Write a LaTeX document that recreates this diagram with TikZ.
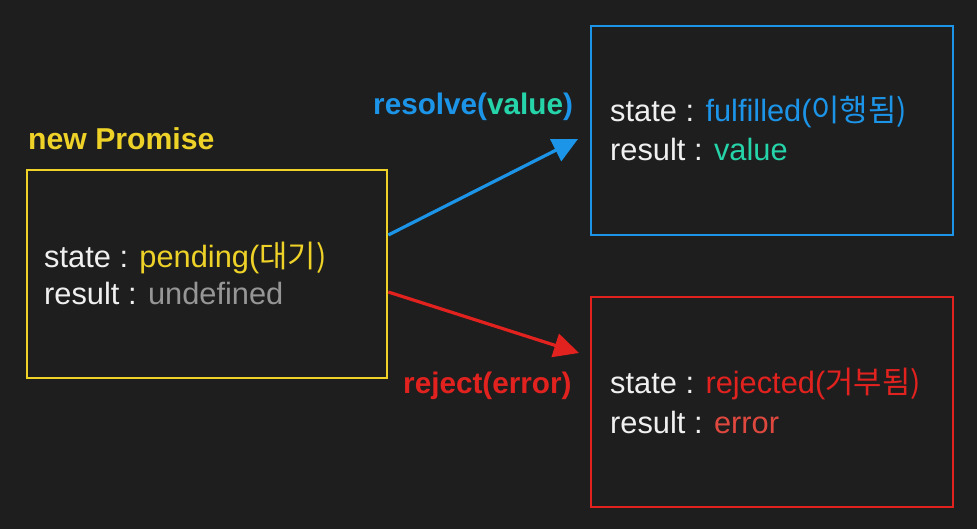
\documentclass[tikz,border=0pt]{standalone}
\usepackage{fontspec}
\setmainfont{Liberation Sans}
\newfontfamily\kor{Noto Sans CJK KR}
\usetikzlibrary{arrows.meta}
\definecolor{bg}{RGB}{30,30,30}
\definecolor{pyellow}{RGB}{238,210,40}
\definecolor{pblue}{RGB}{28,148,232}
\definecolor{pteal}{RGB}{38,212,170}
\definecolor{pred}{RGB}{226,34,30}
\definecolor{pgray}{RGB}{150,150,150}
\definecolor{pwhite}{RGB}{240,240,240}
\definecolor{perr}{RGB}{222,72,62}
\tikzset{
  box/.style={draw, line width=2.6pt, minimum width=#1, inner sep=0pt},
  txt/.style={anchor=base west, inner sep=0pt, text=pwhite, font=\fontsize{30.8}{36}\selectfont},
  lbl/.style={anchor=base west, inner sep=0pt, font=\fontsize{29.7}{35}\selectfont\bfseries},
  conn/.style={line width=3.2pt, -{Triangle[length=25pt,width=24pt]}}
}
\begin{document}
\begin{tikzpicture}[x=1pt,y=-1pt]
\fill[bg] (0,0) rectangle (977,529);
\useasboundingbox (0,0) rectangle (977,529);
% boxes
\node[box=360pt, draw=pyellow, minimum height=208pt] (pend) at (207,274) {};
\node[box=362pt, draw=pblue, minimum height=209pt] (ful) at (772,130.5) {};
\node[box=362pt, draw=pred, minimum height=210pt] (rej) at (772,402) {};
% titles
\node[lbl, text=pyellow, font=\fontsize{30.2}{35}\selectfont\bfseries] (title) at (28,150) {new Promise};
\node[lbl] (res) at (373,115) {\textcolor{pblue}{resolve(}\textcolor{pteal}{value}\textcolor{pblue}{)}};
\node[lbl, text=pred] (rjl) at (403,393) {reject(error)};
% contents
\node[txt] (s1) at (44,268) {state : \textcolor{pyellow}{pending(\kor 대기)}};
\node[txt] (r1) at (44,305) {result : \textcolor{pgray}{undefined}};
\node[txt] (s2) at (610,122) {state : \textcolor{pblue}{fulfilled(\kor 이행됨)}};
\node[txt] (r2) at (610,161) {result : \textcolor{pteal}{value}};
\node[txt] (s3) at (610,393) {state : \textcolor{pred}{rejected(\kor 거부됨)}};
\node[txt] (r3) at (610,433) {result : \textcolor{perr}{error}};
% connectors
\coordinate (a1) at (pend.east |- 0,235);
\coordinate (b1) at (578,139);
\coordinate (a2) at (pend.east |- 0,292);
\coordinate (b2) at (579,353);
\draw[conn, draw=pblue, fill=pblue] (a1) -- (b1);
\draw[conn, draw=pred, fill=pred] (a2) -- (b2);
\end{tikzpicture}
\end{document}
